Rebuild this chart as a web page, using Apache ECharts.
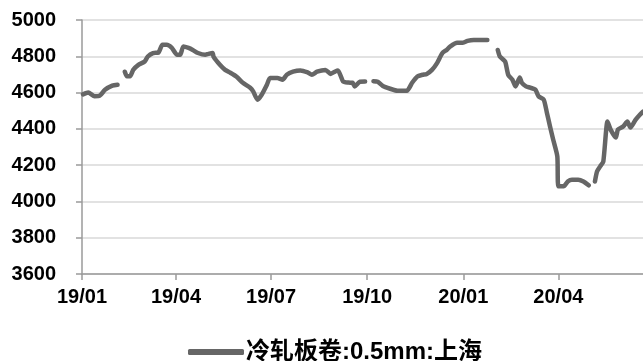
<!DOCTYPE html>
<html>
<head>
<meta charset="utf-8">
<script src="https://cdn.jsdelivr.net/npm/echarts@6/dist/echarts.min.js"></script>
<style>
  html, body { margin: 0; padding: 0; background: #fff; }
  #chart { width: 643px; height: 361px; }
</style>
</head>
<body>
<div id="chart"></div>
<script>
// 冷轧板卷 0.5mm 上海 price (yuan/ton); null marks holiday breaks in the series
const dates = [
  '2019-01-02','2019-01-07','2019-01-13','2019-01-18','2019-01-23','2019-01-30','2019-02-04',
  '2019-02-08',
  '2019-02-11','2019-02-13','2019-02-16','2019-02-19','2019-02-24','2019-03-02','2019-03-05',
  '2019-03-10','2019-03-15','2019-03-19','2019-03-23','2019-03-28','2019-04-02','2019-04-05',
  '2019-04-08','2019-04-13','2019-04-17','2019-04-22','2019-04-29','2019-05-02','2019-05-06',
  '2019-05-07','2019-05-13','2019-05-18','2019-05-23','2019-05-29','2019-06-04','2019-06-11',
  '2019-06-14','2019-06-18','2019-06-22','2019-06-27','2019-06-30','2019-07-07','2019-07-12',
  '2019-07-16','2019-07-22','2019-07-29','2019-08-05','2019-08-09','2019-08-14','2019-08-22',
  '2019-08-27','2019-08-31','2019-09-03','2019-09-08','2019-09-13','2019-09-17','2019-09-19',
  '2019-09-24','2019-09-29',
  '2019-10-04',
  '2019-10-07','2019-10-11','2019-10-16','2019-10-23','2019-10-30','2019-11-08','2019-11-13',
  '2019-11-18','2019-11-23','2019-11-27','2019-12-02','2019-12-07','2019-12-12','2019-12-16',
  '2019-12-19','2019-12-26','2019-12-31','2020-01-05','2020-01-11','2020-01-18','2020-01-24',
  '2020-01-28',
  '2020-02-03','2020-02-05','2020-02-10','2020-02-13','2020-02-17','2020-02-20','2020-02-24',
  '2020-02-26','2020-03-01','2020-03-05','2020-03-10','2020-03-13','2020-03-18','2020-03-21',
  '2020-03-24','2020-03-27','2020-03-31','2020-04-01','2020-04-06','2020-04-10','2020-04-14',
  '2020-04-20','2020-04-25','2020-04-30',
  '2020-05-03',
  '2020-05-06','2020-05-08','2020-05-11','2020-05-14','2020-05-18','2020-05-21','2020-05-26',
  '2020-05-28','2020-06-02','2020-06-06','2020-06-09','2020-06-14','2020-06-18','2020-06-21'
];
const prices = [
  4590, 4600, 4580, 4583, 4615, 4638, 4643,
  null,
  4715, 4690, 4690, 4725, 4753, 4771, 4799,
  4818, 4820, 4863, 4863, 4846, 4808, 4808,
  4854, 4846, 4835, 4818, 4808, 4813, 4818,
  4797, 4753, 4725, 4709, 4687, 4654, 4627,
  4605, 4561, 4588, 4643, 4681, 4681, 4671,
  4698, 4715, 4722, 4711, 4698, 4715, 4725,
  4703, 4715, 4722, 4661, 4655, 4654, 4634,
  4660, 4661,
  null,
  4663, 4660, 4636, 4621, 4610, 4610, 4654,
  4689, 4698, 4703, 4725, 4764, 4818, 4835,
  4852, 4874, 4874, 4885, 4890, 4890, 4890,
  null,
  4835, 4799, 4771, 4698, 4671, 4634, 4683,
  4654, 4634, 4627, 4616, 4580, 4561, 4489,
  4413, 4341, 4248, 4083, 4083, 4110, 4120,
  4120, 4110, 4089,
  null,
  4110, 4165, 4193, 4220, 4440, 4396, 4352,
  4396, 4413, 4440, 4407, 4451, 4478, 4495
];
// quarterly tick positions on the date axis
const tickDates = ['2019-01-01','2019-04-01','2019-07-01','2019-10-01','2020-01-01','2020-04-01'];
const seriesName = '冷轧板卷:0.5mm:上海';

const ts = s => { const p = s.split('-').map(Number); return Date.UTC(p[0], p[1] - 1, p[2]); };
const lineData = dates.map((d, i) => [ts(d), prices[i] == null ? '-' : prices[i]]);
const tickValues = tickDates.map(ts);

const latin = "'Liberation Sans', Arial, 'Noto Sans CJK SC', sans-serif";
const chart = echarts.init(document.getElementById('chart'), null, { renderer: 'canvas' });
chart.setOption({
  animation: false,
  backgroundColor: '#ffffff',
  grid: { left: 82, right: 0, top: 20, bottom: 87, containLabel: false },
  xAxis: {
    // timestamps on a linear axis so ticks can sit exactly on quarter starts
    type: 'value',
    min: ts('2019-01-01'),
    max: ts('2020-06-21'),
    axisLine: { show: true, lineStyle: { color: '#9a9a9a', width: 1.5 } },
    axisTick: { show: true, length: 6, lineStyle: { color: '#9a9a9a', width: 1.5 }, customValues: tickValues },
    axisLabel: {
      customValues: tickValues,
      margin: 13,
      color: '#000',
      fontSize: 20,
      fontWeight: 'bold',
      fontFamily: latin,
      hideOverlap: false,
      formatter: v => {
        const d = new Date(v);
        const yy = String(d.getUTCFullYear()).slice(2);
        const mm = String(d.getUTCMonth() + 1).padStart(2, '0');
        return yy + '/' + mm;
      }
    },
    splitLine: { show: false }
  },
  yAxis: {
    type: 'value',
    min: 3600,
    max: 5000,
    interval: 200,
    axisLine: { show: true, lineStyle: { color: '#9a9a9a', width: 1.5 } },
    axisTick: { show: true, length: 6, lineStyle: { color: '#9a9a9a', width: 1.5 } },
    axisLabel: {
      margin: 26, color: '#000', fontSize: 20, fontWeight: 'bold', fontFamily: latin,
      formatter: v => String(v)
    },
    splitLine: { show: true, lineStyle: { color: '#d9d9d9', width: 1.5 } }
  },
  legend: {
    left: 183,
    top: 335,
    icon: 'roundRect',
    itemWidth: 56,
    itemHeight: 6,
    textStyle: { color: '#000', fontSize: 24, fontWeight: 'bold', fontFamily: latin, padding: [0, 0, 0, -3] },
    data: [seriesName]
  },
  series: [{
    name: seriesName,
    type: 'line',
    data: lineData,
    showSymbol: false,
    symbol: 'none',
    connectNulls: false,
    smooth: 0.2,
    clip: true,
    color: '#666666',
    lineStyle: { color: '#666666', width: 4.5, cap: 'round', join: 'round' }
  }]
});
</script>
</body>
</html>
